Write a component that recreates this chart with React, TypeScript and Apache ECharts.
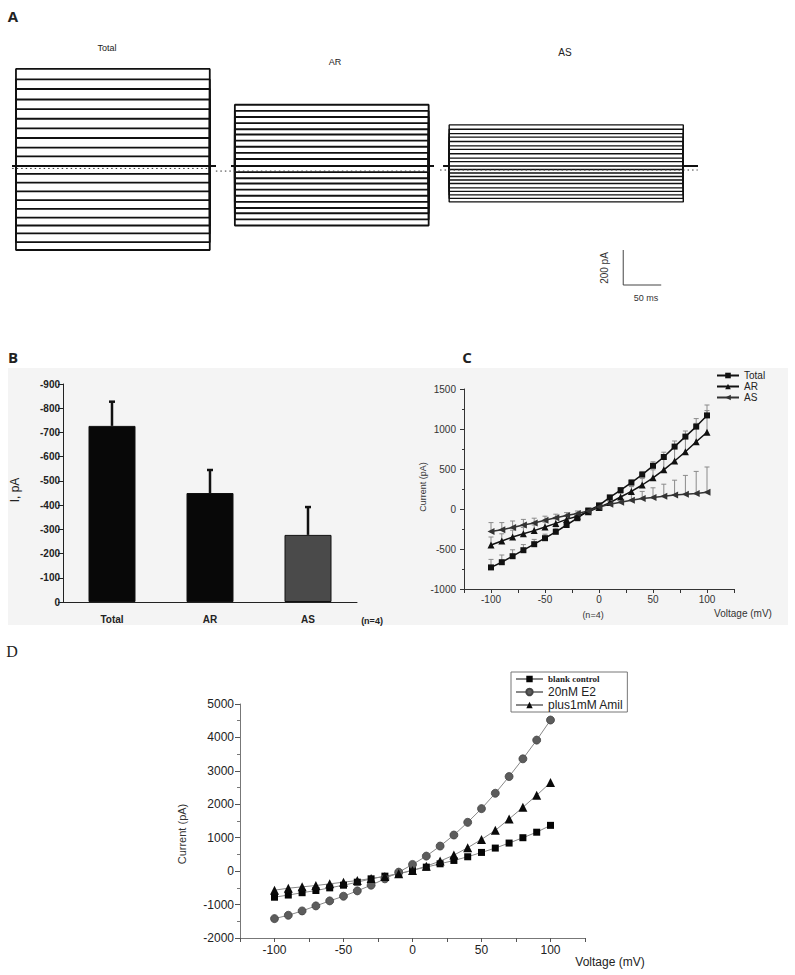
import React, { useEffect, useRef } from "react";
import * as echarts from "echarts";

// ---------- Panel A: current traces (display pA / display ms) ----------
const totalTraceLevels = [555, 495, 440, 380, 325, 270, 215, 160, 105, 55, 0, -45, -95, -145, -195, -245, -295, -340, -385, -435, -480];
const arTraceLevels = [350, 315, 280, 245, 210, 180, 145, 110, 75, 40, 0, -35, -70, -100, -135, -170, -205, -240, -270, -305, -340];
const asTraceLevels = [235, 210, 185, 165, 140, 115, 95, 70, 45, 25, 0, -20, -40, -60, -80, -100, -125, -145, -165, -185, -205];
// [holding start, pulse on, pulse off, holding end] in ms
const totalSweepTimes = [16, 21, 276, 284];
const arSweepTimes = [304, 309, 564, 570];
const asSweepTimes = [584, 591, 899, 918];
// dotted zero-current reference lines: [start ms, end ms, level pA]
const totalZeroLine = [16, 276, -14];
const arZeroLine = [284, 568, -29];
const asZeroLine = [579, 918, -23];
const traceTitles = ["Total", "AR", "AS"];
const scaleBarOrigin = [820, -680];
const scaleBarPA = 200;
const scaleBarMs = 50;

// ---------- Panel B: bar chart ----------
const barCategories = ["Total", "AR", "AS"];
const barMeans = [-727, -450, -277];
const barSem = [100, 95, 115];

// ---------- Panel C: I-V curves ----------
const voltages = [-100, -90, -80, -70, -60, -50, -40, -30, -20, -10, 0, 10, 20, 30, 40, 50, 60, 70, 80, 90, 100];
const ivTotal = [-730, -665, -590, -515, -440, -365, -285, -200, -115, -20, 45, 145, 235, 330, 430, 540, 650, 780, 905, 1030, 1170];
const ivAR = [-450, -400, -350, -310, -270, -225, -180, -130, -90, -35, 20, 80, 150, 220, 300, 390, 490, 600, 715, 840, 960];
const ivAS = [-280, -260, -230, -200, -175, -140, -110, -80, -55, -25, 25, 60, 85, 110, 130, 145, 160, 175, 185, 195, 210];
const errTotal = [100, 90, 80, 70, 60, 50, 45, 40, 35, 30, 25, 25, 30, 35, 40, 50, 60, 70, 70, 100, 130];
const errAR = [100, 90, 85, 80, 70, 60, 55, 45, 35, 25, 20, 30, 50, 60, 80, 100, 130, 170, 200, 230, 270];
const errAS = [110, 90, 80, 70, 60, 50, 45, 35, 30, 25, 20, 30, 50, 70, 90, 120, 150, 185, 235, 275, 315];

// ---------- Panel D: I-V curves ----------
const blankControl = [-780, -715, -645, -580, -500, -420, -330, -230, -150, -80, 30, 120, 220, 320, 430, 560, 690, 840, 1000, 1165, 1370];
const e2 = [-1420, -1320, -1190, -1040, -890, -750, -590, -420, -230, -30, 200, 450, 750, 1080, 1460, 1870, 2330, 2830, 3360, 3920, 4520];
const amil = [-570, -510, -470, -430, -380, -330, -280, -220, -160, -80, 20, 150, 300, 480, 700, 950, 1220, 1560, 1910, 2270, 2650];

const SANS = "Liberation Sans, Arial, sans-serif";

function traceSeries(levels: number[], t: number[], width: number) {
  return levels.map((L) => ({
    type: "line",
    xAxisIndex: 0,
    yAxisIndex: 0,
    silent: true,
    symbol: "none",
    data: [
      [t[0], 0],
      [t[1], 0],
      [t[1], L],
      [t[2], L],
      [t[2], 0],
      [t[3], 0],
    ],
    lineStyle: { color: "#111", width },
    z: 3,
  }));
}

function zeroSeries(z: number[]) {
  return {
    type: "line",
    xAxisIndex: 0,
    yAxisIndex: 0,
    silent: true,
    symbol: "none",
    data: [
      [z[0], z[2]],
      [z[1], z[2]],
    ],
    lineStyle: { color: "#333", width: 1, type: [1.5, 3] },
    z: 4,
  };
}

function errSeries(vals: number[], errs: number[], xi: number, color: string) {
  return {
    type: "custom",
    xAxisIndex: xi,
    yAxisIndex: xi,
    silent: true,
    z: 1,
    encode: { x: 0, y: [1, 2] },
    data: voltages.map((v, i) => [v, vals[i], vals[i] + errs[i]]),
    renderItem: (params: any, api: any) => {
      const p0 = api.coord([api.value(0), api.value(1)]);
      const p1 = api.coord([api.value(0), api.value(2)]);
      return {
        type: "group",
        children: [
          { type: "line", shape: { x1: p0[0], y1: p0[1], x2: p1[0], y2: p1[1] }, style: { stroke: color, lineWidth: 1 } },
          { type: "line", shape: { x1: p1[0] - 2.5, y1: p1[1], x2: p1[0] + 2.5, y2: p1[1] }, style: { stroke: color, lineWidth: 1 } },
        ],
      };
    },
  };
}

function text(t: string, x: number, y: number, size: number, extra: any = {}) {
  return {
    type: "text",
    x,
    y,
    rotation: extra.rotation || 0,
    z: 10,
    style: {
      text: t,
      fontSize: size,
      fontFamily: extra.fontFamily || SANS,
      fontWeight: extra.fontWeight || "normal",
      fill: extra.fill || "#222",
      align: extra.align || "center",
      verticalAlign: "middle",
      textAlign: extra.align || "center",
      textVerticalAlign: "middle",
    },
  };
}

const mvFormatter = (v: number) => (v % 50 === 0 && Math.abs(v) <= 100 ? String(v) : "");
const plainFormatter = (v: number) => String(v);

export default function App() {
  const ref = useRef<HTMLDivElement>(null);
  useEffect(() => {
    if (!ref.current) return;
    const chart = echarts.init(ref.current, null, { renderer: "svg" });

    const option: any = {
      animation: false,
      backgroundColor: "#ffffff",
      grid: [
        { left: 0, top: 8.5, width: 795, height: 297.5 },
        { left: 63, top: 384, width: 294, height: 218 },
        { left: 464, top: 389, width: 270, height: 200 },
        { left: 240, top: 704, width: 345, height: 234 },
      ],
      xAxis: [
        { gridIndex: 0, type: "value", min: 0, max: 1046, show: false },
        {
          gridIndex: 1,
          type: "category",
          data: barCategories,
          axisLine: { lineStyle: { color: "#222", width: 1 } },
          axisTick: { show: false },
          axisLabel: { fontSize: 10, fontWeight: "bold", color: "#222", fontFamily: SANS, margin: 12 },
        },
        {
          gridIndex: 2,
          type: "value",
          min: -125,
          max: 125,
          interval: 25,
          splitLine: { show: false },
          axisLine: { onZero: false, lineStyle: { color: "#333" } },
          axisTick: { length: 4, lineStyle: { color: "#333" } },
          axisLabel: { formatter: mvFormatter, fontSize: 10, color: "#333", fontFamily: SANS, margin: 5 },
        },
        {
          gridIndex: 3,
          type: "value",
          min: -125,
          max: 125,
          interval: 25,
          splitLine: { show: false },
          axisLine: { onZero: false, lineStyle: { color: "#777" } },
          axisTick: { length: 4, lineStyle: { color: "#555" } },
          axisLabel: { formatter: mvFormatter, fontSize: 12, color: "#222", fontFamily: SANS, margin: 6 },
        },
      ],
      yAxis: [
        { gridIndex: 0, type: "value", min: -800, max: 900, show: false },
        {
          gridIndex: 1,
          type: "value",
          inverse: true,
          min: -900,
          max: 0,
          interval: 100,
          splitLine: { show: false },
          axisLine: { show: true, onZero: false, lineStyle: { color: "#222" } },
          axisTick: { show: true, length: 5, lineStyle: { color: "#222" } },
          axisLabel: { formatter: plainFormatter, fontSize: 10, fontWeight: "bold", color: "#222", fontFamily: SANS, margin: 3 },
        },
        {
          gridIndex: 2,
          type: "value",
          min: -1000,
          max: 1500,
          interval: 500,
          splitLine: { show: false },
          axisLine: { show: true, onZero: false, lineStyle: { color: "#333" } },
          axisTick: { show: true, length: 4, lineStyle: { color: "#333" } },
          minorTick: { show: true, splitNumber: 2, length: 2, lineStyle: { color: "#333" } },
          axisLabel: { formatter: plainFormatter, fontSize: 10, color: "#333", fontFamily: SANS, margin: 8 },
        },
        {
          gridIndex: 3,
          type: "value",
          min: -2000,
          max: 5000,
          interval: 1000,
          splitLine: { show: false },
          axisLine: { show: true, onZero: false, lineStyle: { color: "#777" } },
          axisTick: { show: true, length: 5, lineStyle: { color: "#555" } },
          minorTick: { show: true, splitNumber: 2, length: 3, lineStyle: { color: "#777" } },
          axisLabel: { formatter: plainFormatter, fontSize: 12, color: "#222", fontFamily: SANS, margin: 6 },
        },
      ],
      legend: [
        {
          data: ["Total", "AR", "AS"],
          orient: "vertical",
          left: 716,
          top: 370,
          padding: 0,
          itemWidth: 22,
          itemHeight: 7,
          itemGap: 0,
          selectedMode: false,
          textStyle: { fontSize: 10, color: "#222", fontFamily: SANS, lineHeight: 11 },
        },
        {
          data: [
            { name: "blank control", textStyle: { fontFamily: "Liberation Serif, serif", fontWeight: "bold", fontSize: 9 } },
            { name: "20nM E2" },
            { name: "plus1mM Amil" },
          ],
          orient: "vertical",
          left: 511,
          top: 672,
          padding: [1, 4, 1, 4],
          borderColor: "#777",
          borderWidth: 1,
          itemWidth: 27,
          itemHeight: 8,
          itemGap: 1,
          selectedMode: false,
          textStyle: { fontSize: 12, color: "#222", fontFamily: SANS, lineHeight: 12 },
        },
      ],
      graphic: [
        { type: "rect", z: -10, shape: { x: 8, y: 368, width: 780, height: 257 }, style: { fill: "#f4f4f4" } },
        text("A", 13, 16, 15, { fontWeight: "bold", fontFamily: "Open Sans, sans-serif" }),
        text("B", 13, 357, 15, { fontWeight: "bold", fontFamily: "Open Sans, sans-serif" }),
        text("C", 467, 357, 15, { fontWeight: "bold", fontFamily: "Open Sans, sans-serif" }),
        text("D", 12, 651, 16, { fontFamily: "Liberation Serif, serif" }),
        text(traceTitles[0], 107, 48, 9),
        text(traceTitles[1], 335, 62, 9),
        text(traceTitles[2], 565, 52, 10),
        text(scaleBarPA + " pA", 604, 268, 10, { rotation: Math.PI / 2, fill: "#333" }),
        text(scaleBarMs + " ms", 646, 298, 9, { fill: "#333" }),
        text("I, pA", 15, 490, 12, { rotation: Math.PI / 2 }),
        text("(n=4)", 372, 621, 9, { fontWeight: "bold" }),
        text("Current (pA)", 423, 487, 9, { rotation: Math.PI / 2, fill: "#333" }),
        text("(n=4)", 593, 615, 9, { fill: "#333" }),
        text("Voltage (mV)", 743, 613, 10, { fill: "#333" }),
        text("Current (pA)", 182, 834, 11, { rotation: Math.PI / 2, fill: "#333" }),
        text("Voltage (mV)", 610, 962, 12, { fill: "#222" }),
      ],
      series: [
        ...traceSeries(totalTraceLevels, totalSweepTimes, 1.8),
        ...traceSeries(arTraceLevels, arSweepTimes, 1.8),
        ...traceSeries(asTraceLevels, asSweepTimes, 1.4),
        zeroSeries(totalZeroLine),
        zeroSeries(arZeroLine),
        zeroSeries(asZeroLine),
        {
          type: "line",
          xAxisIndex: 0,
          yAxisIndex: 0,
          silent: true,
          symbol: "none",
          data: [
            [scaleBarOrigin[0], scaleBarOrigin[1] + scaleBarPA],
            [scaleBarOrigin[0], scaleBarOrigin[1]],
            [scaleBarOrigin[0] + scaleBarMs, scaleBarOrigin[1]],
          ],
          lineStyle: { color: "#444", width: 1 },
        },
        // Panel B
        {
          type: "bar",
          xAxisIndex: 1,
          yAxisIndex: 1,
          barWidth: 47,
          silent: true,
          data: barMeans.map((v, i) => ({
            value: v,
            itemStyle: { color: i === 2 ? "#4a4a4a" : "#080808", borderColor: "#111", borderWidth: 1 },
          })),
          z: 2,
        },
        {
          type: "custom",
          xAxisIndex: 1,
          yAxisIndex: 1,
          silent: true,
          z: 3,
          encode: { x: 0, y: [1, 2] },
          data: barMeans.map((v, i) => [i, v, v - barSem[i]]),
          renderItem: (params: any, api: any) => {
            const p0 = api.coord([api.value(0), api.value(1)]);
            const p1 = api.coord([api.value(0), api.value(2)]);
            return {
              type: "group",
              children: [
                { type: "line", shape: { x1: p0[0], y1: p0[1], x2: p1[0], y2: p1[1] }, style: { stroke: "#111", lineWidth: 2.5 } },
                { type: "line", shape: { x1: p1[0] - 3, y1: p1[1], x2: p1[0] + 3, y2: p1[1] }, style: { stroke: "#111", lineWidth: 2.5 } },
              ],
            };
          },
        },
        // Panel C
        errSeries(ivTotal, errTotal, 2, "#8a8a8a"),
        errSeries(ivAR, errAR, 2, "#8a8a8a"),
        errSeries(ivAS, errAS, 2, "#8a8a8a"),
        {
          name: "Total",
          type: "line",
          xAxisIndex: 2,
          yAxisIndex: 2,
          symbol: "rect",
          symbolSize: 6,
          data: voltages.map((v, i) => [v, ivTotal[i]]),
          lineStyle: { color: "#111", width: 1.5 },
          itemStyle: { color: "#111" },
          z: 4,
        },
        {
          name: "AR",
          type: "line",
          xAxisIndex: 2,
          yAxisIndex: 2,
          symbol: "triangle",
          symbolSize: 7,
          data: voltages.map((v, i) => [v, ivAR[i]]),
          lineStyle: { color: "#111", width: 1.5 },
          itemStyle: { color: "#111" },
          z: 4,
        },
        {
          name: "AS",
          type: "line",
          xAxisIndex: 2,
          yAxisIndex: 2,
          symbol: "triangle",
          symbolRotate: 90,
          symbolSize: 7,
          data: voltages.map((v, i) => [v, ivAS[i]]),
          lineStyle: { color: "#333", width: 1.5 },
          itemStyle: { color: "#333" },
          z: 4,
        },
        // Panel D
        {
          name: "blank control",
          type: "line",
          xAxisIndex: 3,
          yAxisIndex: 3,
          symbol: "rect",
          symbolSize: 7,
          data: voltages.map((v, i) => [v, blankControl[i]]),
          lineStyle: { color: "#888", width: 1 },
          itemStyle: { color: "#050505" },
        },
        {
          name: "20nM E2",
          type: "line",
          xAxisIndex: 3,
          yAxisIndex: 3,
          symbol: "circle",
          symbolSize: 8,
          data: voltages.map((v, i) => [v, e2[i]]),
          lineStyle: { color: "#888", width: 1 },
          itemStyle: { color: "#5c5c5c", borderColor: "#444", borderWidth: 0.8 },
        },
        {
          name: "plus1mM Amil",
          type: "line",
          xAxisIndex: 3,
          yAxisIndex: 3,
          symbol: "triangle",
          symbolSize: 9,
          data: voltages.map((v, i) => [v, amil[i]]),
          lineStyle: { color: "#888", width: 1 },
          itemStyle: { color: "#0a0a0a" },
        },
      ],
    };

    chart.setOption(option);
    return () => chart.dispose();
  }, []);

  return <div ref={ref} style={{ position: "absolute", left: 0, top: 0, width: 795, height: 975 }} />;
}
